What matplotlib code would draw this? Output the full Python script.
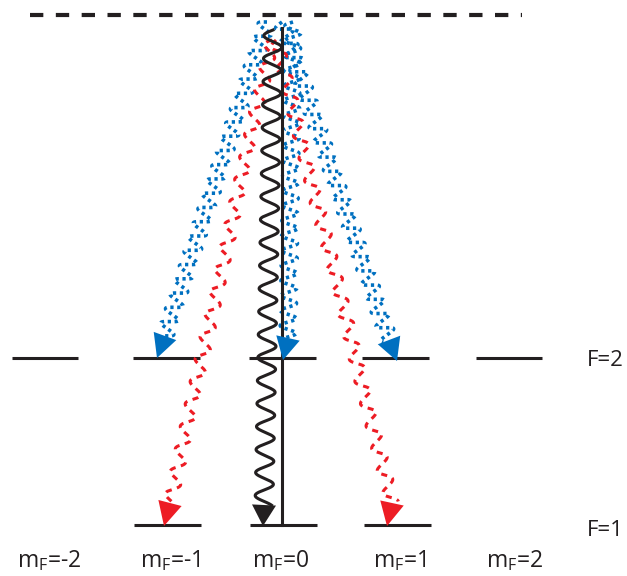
#!/usr/bin/env python
import numpy as np
import matplotlib.pyplot as plt
from matplotlib.patches import Polygon

# level positions (pixel-like units, y down)
F2_y = 358
F1_y = 525
F2_segs = [(12, 78), (133, 200), (249, 316), (362, 429), (476, 542)]
F1_segs = [(134, 201), (250, 317), (364, 431)]
mF_labels = ['-2', '-1', '0', '1', '2']
mF_x = [49, 170, 281, 400, 515]
virtual_y = 15
virtual_x = (30, 522)

# transitions: start of wave, arrow base centre, arrow tip
blue_start = [(267, 22), (293, 22), (282, 22)]
blue_base = [(165, 336), (288, 338), (389, 340)]
blue_tip = [(157, 358), (283, 360), (397, 361)]
red_start = [(272, 40), (276, 40)]
red_base = [(170, 503), (392, 503)]
red_tip = [(164, 526), (387, 526)]
black_start = (273, 30)
black_base = (264, 505)
black_tip = (263, 526)

BLUE = '#0070c0'
RED = '#ed1c24'
BLACK = '#231f20'


def wave(p0, p1, period, amp):
    p0 = np.array(p0, float)
    p1 = np.array(p1, float)
    d = p1 - p0
    L = np.hypot(*d)
    u = d / L
    n = np.array([-u[1], u[0]])
    s = np.linspace(0, L, 1500)
    off = amp * np.sin(2 * np.pi * s / period)
    pts = p0[None, :] + s[:, None] * u[None, :] + off[:, None] * n[None, :]
    return pts[:, 0], pts[:, 1]


def arrowhead(ax, base, tip, color, hw=12):
    base = np.array(base, float)
    tip = np.array(tip, float)
    d = tip - base
    u = d / np.hypot(*d)
    n = np.array([-u[1], u[0]])
    poly = Polygon([base + hw * n, base - hw * n, tip], closed=True,
                   facecolor=color, edgecolor='none', zorder=6)
    ax.add_patch(poly)


fig = plt.figure(figsize=(6.27, 5.76), dpi=100)
ax = fig.add_axes([0, 0, 1, 1])
ax.set_xlim(0, 627)
ax.set_ylim(576, 0)
ax.axis('off')

# virtual level
ax.plot(virtual_x, [virtual_y, virtual_y], color=BLACK, lw=3,
        dashes=(3.2, 3.0), solid_capstyle='butt', dash_capstyle='butt')

# hyperfine levels
for a, b in F2_segs:
    ax.plot([a, b], [F2_y, F2_y], color=BLACK, lw=2.2, solid_capstyle='butt')
for a, b in F1_segs:
    ax.plot([a, b], [F1_y, F1_y], color=BLACK, lw=2.2, solid_capstyle='butt')

# blue dotted waves
for p0, p1 in zip(blue_start, blue_base):
    x, y = wave(p0, p1, 15, 8)
    ax.plot(x, y, color=BLUE, lw=2.6, dashes=(0.9, 1.0), dash_capstyle='butt', zorder=2)

# red dashed waves
for p0, p1 in zip(red_start, red_base):
    x, y = wave(p0, p1, 23, 6.5)
    ax.plot(x, y, color=RED, lw=2.2, dashes=(2.0, 1.8), dash_capstyle='butt', zorder=3)

# black wave and straight line
x, y = wave(black_start, black_base, 23, 9)
ax.plot(x, y, color=BLACK, lw=2.2, zorder=4)
ax.plot([282, 282], [28, F1_y], color=BLACK, lw=2.2, zorder=5)

for b, t in zip(blue_base, blue_tip):
    arrowhead(ax, b, t, BLUE, 12)
for b, t in zip(red_base, red_tip):
    arrowhead(ax, b, t, RED, 12)
arrowhead(ax, black_base, black_tip, BLACK, 12)

# labels
for lab, xx in zip(mF_labels, mF_x):
    ax.text(xx, 561, r'm$_\mathregular{F}$=' + lab, ha='center', va='center',
            fontsize=16.5, color=BLACK, family='Open Sans')
ax.text(605, 360, 'F=2', ha='center', va='center', fontsize=16, color=BLACK, family='Open Sans')
ax.text(605, 530, 'F=1', ha='center', va='center', fontsize=16, color=BLACK, family='Open Sans')

fig.savefig('out.png', dpi=100)
